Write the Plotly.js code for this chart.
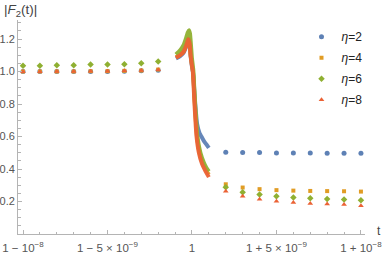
<!DOCTYPE html>
<html>
<head>
<meta charset="utf-8">
<script src="https://cdn.plot.ly/plotly-3.0.1.min.js"></script>
<style>html,body{margin:0;padding:0;background:#fff;}#chart{width:382px;height:261px;}</style>
</head>
<body>
<div id="chart"></div>
<script>
// t is measured as (t - 1) in units of 1e-9
const tLeft = [-10, -9, -8, -7, -6, -5, -4, -3, -2];
const tRight = [2, 3, 4, 5, 6, 7, 8, 9, 10];

const seriesNames = ["<i>η</i>=2", "<i>η</i>=4", "<i>η</i>=6", "<i>η</i>=8"];

// discrete points, left side (t < 1)
const eta2Left = [1.000, 1.000, 1.000, 1.000, 1.000, 1.000, 1.002, 1.004, 1.008];
const eta4Left = [1.000, 1.000, 1.000, 1.000, 1.002, 1.002, 1.004, 1.006, 1.012];
const eta6Left = [1.035, 1.035, 1.039, 1.039, 1.043, 1.043, 1.045, 1.051, 1.061];
const eta8Left = [0.999, 0.999, 1.000, 1.000, 1.001, 1.002, 1.004, 1.006, 1.011];

// discrete points, right side (t > 1)
const eta2Right = [0.503, 0.501, 0.501, 0.499, 0.498, 0.498, 0.497, 0.497, 0.497];
const eta4Right = [0.306, 0.286, 0.276, 0.270, 0.267, 0.265, 0.264, 0.263, 0.261];
const eta6Right = [0.288, 0.257, 0.243, 0.233, 0.225, 0.220, 0.215, 0.212, 0.208];
const eta8Right = [0.263, 0.233, 0.214, 0.202, 0.194, 0.188, 0.184, 0.181, 0.174];

// dense sampling near t = 1
const eta2CurveT = [-0.95, -0.7, -0.5, -0.37, -0.27, -0.22, -0.14, -0.08, 0.0, 0.06, 0.18, 0.3, 0.45, 0.57, 0.75, 0.9, 1.0];
const eta2CurveV = [1.080, 1.095, 1.115, 1.146, 1.177, 1.194, 1.167, 1.095, 1.03, 0.995, 0.820, 0.680, 0.620, 0.598, 0.565, 0.545, 0.530];
const eta4CurveT = [-0.95, -0.7, -0.5, -0.37, -0.27, -0.22, -0.14, -0.08, 0.0, 0.06, 0.17, 0.3, 0.45, 0.65, 0.85, 1.0];
const eta4CurveV = [1.088, 1.103, 1.123, 1.154, 1.185, 1.202, 1.175, 1.103, 1.04, 1.000, 0.800, 0.600, 0.500, 0.430, 0.390, 0.365];
const eta6CurveT = [-0.95, -0.7, -0.5, -0.37, -0.25, -0.18, -0.12, -0.06, 0.0, 0.08, 0.18, 0.32, 0.5, 0.7, 0.85, 1.0];
const eta6CurveV = [1.105, 1.131, 1.162, 1.199, 1.240, 1.254, 1.234, 1.162, 1.080, 1.008, 0.805, 0.600, 0.500, 0.440, 0.408, 0.385];
const eta8CurveT = [-0.95, -0.7, -0.5, -0.37, -0.27, -0.22, -0.14, -0.08, 0.0, 0.05, 0.15, 0.27, 0.41, 0.6, 0.77, 1.0];
const eta8CurveV = [1.085, 1.100, 1.120, 1.151, 1.182, 1.199, 1.172, 1.100, 1.035, 1.000, 0.800, 0.600, 0.500, 0.430, 0.393, 0.350];

const xTickVals = [-10, -5, 0, 5, 10];
const xTickText = ["1 − 10<sup>−8</sup>", "1 − 5 × 10<sup>−9</sup>", "1", "1 + 5 × 10<sup>−9</sup>", "1 + 10<sup>−8</sup>"];
const yTickVals = [0.2, 0.4, 0.6, 0.8, 1.0, 1.2];

const colors = ["#5E81B5", "#E19C24", "#8FB032", "#EB6235"];
const symbols = ["circle", "square", "diamond", "triangle-up"];
const sizes = [5, 4, 5, 5];

const lefts = [eta2Left, eta4Left, eta6Left, eta8Left];
const rights = [eta2Right, eta4Right, eta6Right, eta8Right];
const curveTs = [eta2CurveT, eta4CurveT, eta6CurveT, eta8CurveT];
const curveVs = [eta2CurveV, eta4CurveV, eta6CurveV, eta8CurveV];

const traces = [];
for (let i = 0; i < 4; i++) {
  traces.push({
    type: "scatter", mode: "lines",
    x: curveTs[i], y: curveVs[i],
    line: {color: colors[i], width: 4, shape: "spline", smoothing: 0.6},
    opacity: 0.95,
    legendgroup: "g" + i, showlegend: false, hoverinfo: "skip"
  });
  traces.push({
    type: "scatter", mode: "markers",
    name: seriesNames[i],
    x: tLeft.concat(tRight), y: lefts[i].concat(rights[i]),
    marker: {color: colors[i], symbol: symbols[i], size: sizes[i]},
    legendgroup: "g" + i
  });
}

const axisGray = "#b4b4b4";
const layout = {
  width: 382, height: 261,
  margin: {l: 18, r: 17, t: 20, b: 27},
  paper_bgcolor: "#fff", plot_bgcolor: "#fff",
  font: {family: "Liberation Sans, Arial, sans-serif", size: 11, color: "#555"},
  showlegend: true,
  legend: {
    x: 0.817, xanchor: "left", y: 0.99, yanchor: "top",
    font: {size: 12, color: "#222"},
    bgcolor: "rgba(0,0,0,0)", traceorder: "grouped", tracegroupgap: 2
  },
  xaxis: {
    range: [-10.296, 10.24],
    tickmode: "array", tickvals: xTickVals, ticktext: xTickText,
    showgrid: false, zeroline: false,
    showline: true, linecolor: axisGray, linewidth: 1,
    ticks: "inside", ticklen: 4, tickcolor: axisGray, tickwidth: 1,
    minor: {tickmode: "linear", tick0: 0, dtick: 1, ticks: "inside", ticklen: 2.5, tickcolor: axisGray, showgrid: false},
    ticklabelstandoff: 3,
    ticklabeloverflow: "allow",
    tickfont: {size: 11.5, color: "#555"}
  },
  yaxis: {
    range: [0, 1.317],
    tickmode: "array", tickvals: yTickVals, tickformat: ".1f",
    showgrid: false, zeroline: false,
    showline: true, linecolor: axisGray, linewidth: 1,
    ticks: "inside", ticklen: 4, tickcolor: axisGray, tickwidth: 1,
    minor: {tickmode: "linear", tick0: 0, dtick: 0.05, ticks: "inside", ticklen: 2.5, tickcolor: axisGray, showgrid: false},
    ticklabeloverflow: "allow",
    tickfont: {size: 11, color: "#555"}
  },
  annotations: [
    {text: "|<i>F</i><sub>2</sub>(t)|", xref: "paper", yref: "paper", x: -0.045, y: 0.995, xanchor: "left", yanchor: "bottom",
     showarrow: false, font: {size: 13.5, color: "#444"}},
    {text: "t", xref: "paper", yref: "paper", x: 1.03, y: 0.013, xanchor: "left", yanchor: "middle",
     showarrow: false, font: {size: 12, color: "#444"}}
  ]
};

Plotly.newPlot("chart", traces, layout, {staticPlot: true, displayModeBar: false});
</script>
</body>
</html>
